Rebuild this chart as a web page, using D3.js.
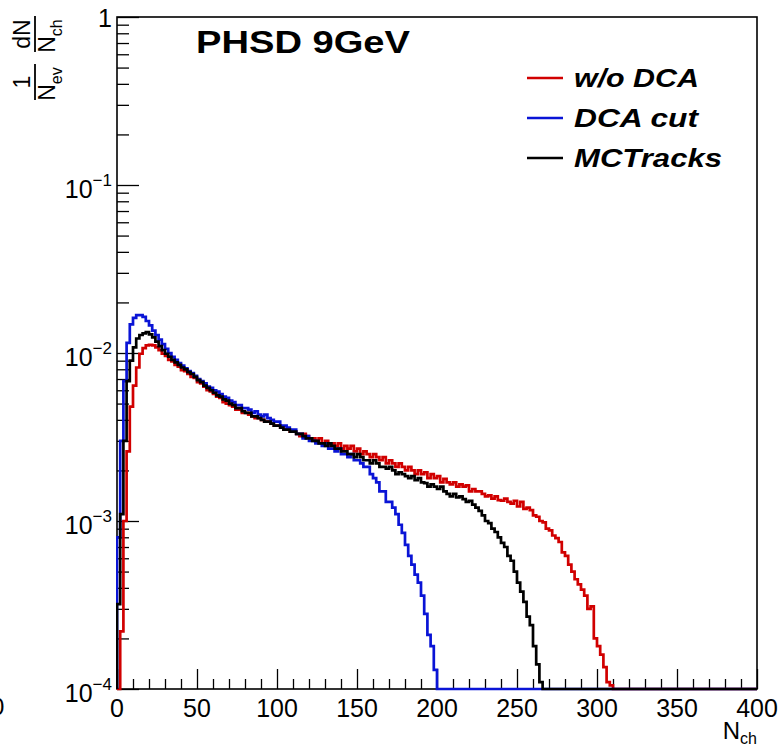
<!DOCTYPE html>
<html>
<head>
<meta charset="utf-8">
<script src="https://cdnjs.cloudflare.com/ajax/libs/d3/7.8.5/d3.min.js"></script>
<style>
  body { margin: 0; background: #fff; }
  svg { display: block; font-family: "Liberation Sans", Arial, sans-serif; }
</style>
</head>
<body>
<div id="chart"></div>
<script>
// histogram contents, bins of width 2 starting at Nch = 0
var binWidth = 2;

var redVals = [0, 0.00022, 0.0010, 0.0026, 0.0048, 0.0064, 0.0082, 0.0099, 0.0107, 0.0111,
  0.0112, 0.0111, 0.0108, 0.0104, 0.0099, 0.0096, 0.0091, 0.0089, 0.0085, 0.0083,
  0.0079, 0.0078, 0.0075, 0.0072, 0.0071, 0.0067, 0.0066, 0.0063, 0.0060, 0.0059,
  0.0057, 0.0055, 0.0054, 0.0051, 0.0050, 0.0049, 0.0048, 0.0046, 0.0046, 0.0044,
  0.0044, 0.0043, 0.0042, 0.0041, 0.0041, 0.0040, 0.0039, 0.0039, 0.0038, 0.0037,
  0.0037, 0.0036, 0.0035, 0.0035, 0.0034, 0.0034, 0.0033, 0.0032, 0.0033, 0.0032,
  0.0031, 0.0031, 0.0030, 0.0031, 0.0029, 0.0030, 0.0028, 0.0029, 0.0028, 0.0029,
  0.0027, 0.0028, 0.0027, 0.0028, 0.0026, 0.0027, 0.0025, 0.0026, 0.0025, 0.0024,
  0.0025, 0.0024, 0.0023, 0.0024, 0.0022, 0.0023, 0.0022, 0.0021, 0.0022, 0.0021,
  0.0020, 0.0021, 0.0020, 0.0019, 0.0020, 0.0019, 0.00195, 0.0018, 0.0019, 0.0018,
  0.00185, 0.0017, 0.00178, 0.0017, 0.00165, 0.0017, 0.0016, 0.00165, 0.0016, 0.00163,
  0.0015, 0.00155, 0.0015, 0.0015, 0.00145, 0.0014, 0.00142, 0.00136, 0.0014, 0.00133,
  0.00132, 0.00136, 0.0013, 0.00127, 0.00132, 0.00122, 0.0013, 0.00118, 0.0012, 0.00116,
  0.00108, 0.00106, 0.0010, 0.00098, 0.0009, 0.00088, 0.00082, 0.00079, 0.00075, 0.00065,
  0.00062, 0.00055, 0.0005, 0.00045, 0.00042, 0.00039, 0.00036, 0.0003, 0.00031, 0.0002,
  0.00018, 0.00016, 0.000135, 0.00011, 0.000105];

var blueVals = [0.0008, 0.0030, 0.0068, 0.0115, 0.0148, 0.0162, 0.0168, 0.0168, 0.0164, 0.0155,
  0.0146, 0.0136, 0.0128, 0.0120, 0.0113, 0.0106, 0.0100, 0.0095, 0.0091, 0.0087,
  0.0084, 0.0081, 0.0078, 0.0076, 0.0073, 0.0070, 0.0068, 0.0066, 0.0063, 0.0062,
  0.0060, 0.0059, 0.0057, 0.0055, 0.0054, 0.0052, 0.0051, 0.0049, 0.0049, 0.0047,
  0.0047, 0.0046, 0.0044, 0.0045, 0.0043, 0.0042, 0.0043, 0.0041, 0.0040, 0.0039,
  0.0039, 0.0037, 0.0037, 0.0036, 0.0035, 0.0035, 0.0033, 0.0033, 0.0031, 0.0032,
  0.0030, 0.0030, 0.0029, 0.0029, 0.0028, 0.0029, 0.0027, 0.0027, 0.0026, 0.0027,
  0.0025, 0.0025, 0.0024, 0.0025, 0.0023, 0.0023, 0.0022, 0.0021, 0.0021, 0.0019,
  0.0018, 0.0017, 0.0015, 0.0015, 0.0013, 0.0013, 0.0012, 0.0011, 0.00095, 0.00085,
  0.00072, 0.00062, 0.00055, 0.00048, 0.00043, 0.00036, 0.00028, 0.00021, 0.00018, 0.00013];

var blackVals = [0.00032, 0.0011, 0.0030, 0.0068, 0.0090, 0.0108, 0.0122, 0.0128, 0.0131, 0.0133,
  0.0129, 0.0124, 0.0117, 0.0110, 0.0104, 0.0099, 0.0095, 0.0091, 0.0088, 0.0085,
  0.0082, 0.0080, 0.0077, 0.0075, 0.0072, 0.0069, 0.0067, 0.0064, 0.0062, 0.0060,
  0.0058, 0.0056, 0.0055, 0.0053, 0.0052, 0.0050, 0.0049, 0.0047, 0.0047, 0.0045,
  0.0044, 0.0044, 0.0042, 0.0042, 0.0041, 0.0040, 0.0039, 0.0039, 0.0038, 0.0037,
  0.0037, 0.0036, 0.0035, 0.0035, 0.0034, 0.0034, 0.0033, 0.0033, 0.0032, 0.0031,
  0.0031, 0.0030, 0.0030, 0.0029, 0.0029, 0.0028, 0.0029, 0.0028, 0.0027, 0.0027,
  0.0026, 0.0026, 0.0025, 0.0025, 0.0024, 0.0025, 0.0024, 0.0023, 0.0023, 0.0022,
  0.0023, 0.0022, 0.0021, 0.0021, 0.00205, 0.0021, 0.0020, 0.0019, 0.00195, 0.0019,
  0.00185, 0.0018, 0.00185, 0.00175, 0.0018, 0.0017, 0.00168, 0.0016, 0.00165, 0.0016,
  0.00155, 0.0016, 0.0015, 0.00145, 0.0014, 0.00145, 0.00138, 0.0014, 0.00135, 0.0013,
  0.00132, 0.00125, 0.0012, 0.00115, 0.00108, 0.0010, 0.00097, 0.0009, 0.00086, 0.0008,
  0.00074, 0.0007, 0.00062, 0.00058, 0.0005, 0.00043, 0.00038, 0.00033, 0.00027, 0.00024,
  0.00018, 0.00014, 0.00011];

var series = [
  {name: "w/o DCA", color: "#d10000", values: redVals},
  {name: "DCA cut", color: "#0a14d6", values: blueVals},
  {name: "MCTracks", color: "#000000", values: blackVals}
];

var xTicks = [0, 50, 100, 150, 200, 250, 300, 350, 400];
var yDecades = [1e-4, 1e-3, 1e-2, 1e-1, 1];
var yExponents = ["\u22124", "\u22123", "\u22122", "\u22121", ""];

var W = 780, H = 749;
var frame = {left: 117, right: 757, top: 17, bottom: 689};

var svg = d3.select("#chart")
  .append("svg")
  .attr("width", W)
  .attr("height", H);

var x = d3.scaleLinear().domain([0, 400]).range([frame.left, frame.right]);
var y = d3.scaleLog().domain([1e-4, 1]).range([frame.bottom, frame.top]);

//minor ticks
var yMinor = [];
yDecades.slice(0, 4).forEach(function(d) {
  for (var k = 2; k <= 9; k++) yMinor.push(d * k);
});
var xMinor = d3.range(0, 401, 10).filter(function(d) { return d % 50 !== 0; });

//x axis
svg.append("g")
  .attr("transform", "translate(0," + frame.bottom + ")")
  .call(d3.axisBottom(x).tickValues(xMinor).tickSize(-10).tickFormat(""))
  .call(function(g) { g.select(".domain").remove(); });

svg.append("g")
  .attr("transform", "translate(0," + frame.bottom + ")")
  .call(d3.axisBottom(x).tickValues(xTicks).tickSize(-20).tickFormat(""))
  .call(function(g) { g.select(".domain").remove(); });

svg.selectAll(".xlab")
  .data(xTicks)
  .enter()
  .append("text")
  .attr("class", "xlab")
  .attr("x", function(d) { return x(d); })
  .attr("y", 717)
  .attr("text-anchor", "middle")
  .attr("font-size", 25)
  .text(function(d) { return d; });

//y axis
svg.append("g")
  .attr("transform", "translate(" + frame.left + ",0)")
  .call(d3.axisLeft(y).tickValues(yMinor).tickSize(-12).tickFormat(""))
  .call(function(g) { g.select(".domain").remove(); });

svg.append("g")
  .attr("transform", "translate(" + frame.left + ",0)")
  .call(d3.axisLeft(y).tickValues(yDecades).tickSize(-22).tickFormat(""))
  .call(function(g) { g.select(".domain").remove(); });

svg.selectAll(".tick line").attr("stroke", "#000").attr("stroke-width", 1.3);

var ylab = svg.selectAll(".ylab")
  .data(yDecades)
  .enter()
  .append("text")
  .attr("class", "ylab")
  .attr("x", 112)
  .attr("y", function(d) { return y(d) + (d === 1 ? 10 : 13); })
  .attr("text-anchor", "end")
  .attr("font-size", 25);

ylab.each(function(d, i) {
  var t = d3.select(this);
  if (d === 1) {
    t.text("1");
  } else {
    t.append("tspan").text("10");
    t.append("tspan").attr("dy", -12).attr("font-size", 17).text(yExponents[i]);
  }
});

//frame
svg.append("rect")
  .attr("x", frame.left)
  .attr("y", frame.top)
  .attr("width", frame.right - frame.left)
  .attr("height", frame.bottom - frame.top)
  .attr("fill", "none")
  .attr("stroke", "#000")
  .attr("stroke-width", 1.6);

//histograms as steps, contents below the axis are drawn on the axis
svg.append("clipPath")
  .attr("id", "clip")
  .append("rect")
  .attr("x", frame.left - 1)
  .attr("y", frame.top)
  .attr("width", frame.right - frame.left + 2)
  .attr("height", frame.bottom - frame.top + 2);

function stepPath(vals) {
  var yv = function(v) { return v >= 1e-4 ? y(v) : frame.bottom; };
  var p = d3.path();
  p.moveTo(x(0), frame.bottom);
  vals.forEach(function(v, i) {
    p.lineTo(x(i * binWidth), yv(v));
    p.lineTo(x((i + 1) * binWidth), yv(v));
  });
  p.lineTo(x(vals.length * binWidth), frame.bottom);
  p.lineTo(x(400), frame.bottom);
  return p.toString();
}

svg.append("g")
  .attr("clip-path", "url(#clip)")
  .selectAll("path")
  .data(series)
  .enter()
  .append("path")
  .attr("d", function(d) { return stepPath(d.values); })
  .attr("fill", "none")
  .attr("stroke", function(d) { return d.color; })
  .attr("stroke-width", 2.7);

//title
svg.append("text")
  .attr("x", 196)
  .attr("y", 53)
  .attr("font-size", 32)
  .attr("font-weight", "bold")
  .attr("textLength", 214)
  .attr("lengthAdjust", "spacingAndGlyphs")
  .text("PHSD 9GeV");

//legend
var legendW = [125, 124, 148];
var leg = svg.selectAll(".leg")
  .data(series)
  .enter()
  .append("g")
  .attr("class", "leg")
  .attr("transform", function(d, i) { return "translate(527," + (78 + i * 40) + ")"; });

leg.append("line")
  .attr("x1", 0)
  .attr("x2", 36)
  .attr("stroke", function(d) { return d.color; })
  .attr("stroke-width", 2.7);

leg.append("text")
  .attr("x", 47)
  .attr("y", 9)
  .attr("font-size", 26)
  .attr("font-weight", "bold")
  .attr("font-style", "italic")
  .attr("textLength", function(d, i) { return legendW[i]; })
  .attr("lengthAdjust", "spacingAndGlyphs")
  .text(function(d) { return d.name; });

//x title
var xt = svg.append("text")
  .attr("x", 757)
  .attr("y", 739)
  .attr("text-anchor", "end")
  .attr("font-size", 24);
xt.append("tspan").text("N");
xt.append("tspan").attr("dy", 5).attr("font-size", 16).text("ch");

//y title: 1/N_ev dN/N_ch, rotated
var yt = svg.append("g").attr("transform", "translate(35,100) rotate(-90)");

function fraction(g, x0, len, num, den, sub) {
  g.append("line")
    .attr("x1", x0).attr("x2", x0 + len)
    .attr("y1", 0).attr("y2", 0)
    .attr("stroke", "#000").attr("stroke-width", 1.8);
  g.append("text")
    .attr("x", x0 + len / 2)
    .attr("y", -5)
    .attr("text-anchor", "middle")
    .attr("font-size", 23)
    .text(num);
  var t = g.append("text")
    .attr("x", x0 + len / 2 - 2)
    .attr("y", 20)
    .attr("text-anchor", "middle")
    .attr("font-size", 23);
  t.append("tspan").text(den);
  t.append("tspan").attr("dy", 7).attr("font-size", 16).text(sub);
}

fraction(yt, 0, 36, "1", "N", "ev");
fraction(yt, 48, 36, "dN", "N", "ch");

//stray label cut at the left edge
svg.append("text")
  .attr("x", -9)
  .attr("y", 715)
  .attr("font-size", 24)
  .text("0");
</script>
</body>
</html>
